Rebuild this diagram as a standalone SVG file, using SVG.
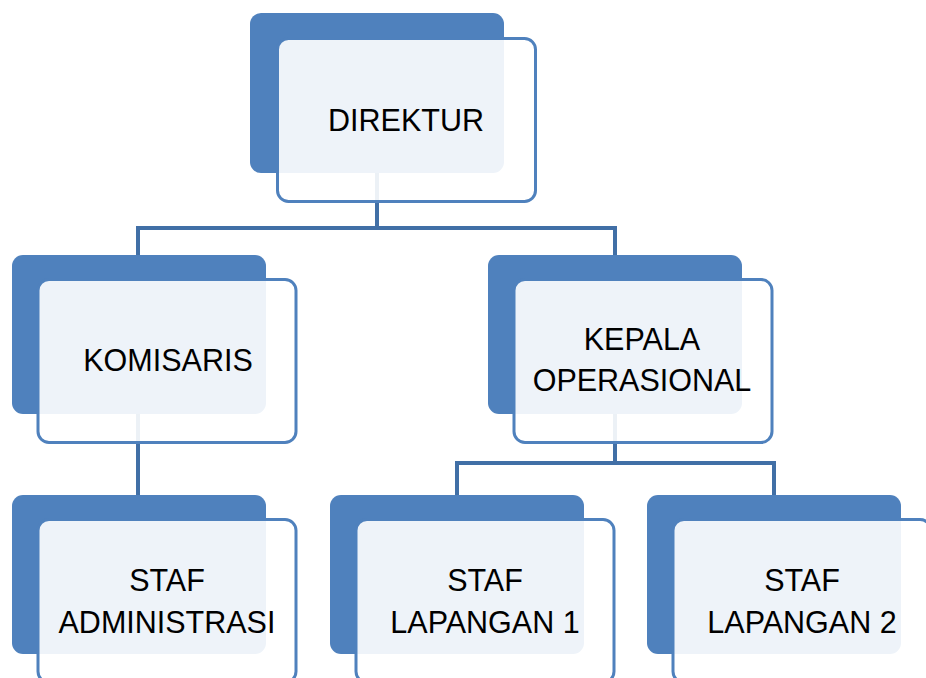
<svg xmlns="http://www.w3.org/2000/svg" width="926" height="678" viewBox="0 0 926 678">
  <style>
    .back { fill: #4F81BD; }
    .front { fill: #FFFFFF; fill-opacity: 0.9; stroke: #4F81BD; stroke-width: 3; }
    .conn { fill: none; stroke: #416FA6; stroke-width: 4; }
    .lbl { font-family: "Liberation Sans", Arial, sans-serif; font-size: 30.5px; fill: #000000; text-anchor: middle; }
  </style>
  <rect width="926" height="678" fill="#FFFFFF"/>
  <g id="connectors">
    <path class="conn" d="M377,173 V228 M138,255 V228 H615 V255"/>
    <path class="conn" d="M138,414 V495"/>
    <path class="conn" d="M615,414 V463 M457,495 V463 H774 V495"/>
  </g>
  <g id="node-direktur">
    <rect class="back" x="250" y="13" width="254" height="160" rx="11"/>
    <rect class="front" x="277.5" y="38.5" width="258" height="163" rx="11"/>
    <text class="lbl" x="406" y="131">DIREKTUR</text>
  </g>
  <g id="node-komisaris">
    <rect class="back" x="12" y="255" width="254" height="159" rx="11"/>
    <rect class="front" x="38" y="279.5" width="258" height="163" rx="11"/>
    <text class="lbl" x="168" y="371">KOMISARIS</text>
  </g>
  <g id="node-kepala-operasional">
    <rect class="back" x="488" y="255" width="254" height="159" rx="11"/>
    <rect class="front" x="514" y="279.5" width="258" height="163" rx="11"/>
    <text class="lbl" x="642" y="350">KEPALA</text>
    <text class="lbl" x="642" y="391">OPERASIONAL</text>
  </g>
  <g id="node-staf-administrasi">
    <rect class="back" x="12" y="495" width="254" height="159" rx="11"/>
    <rect class="front" x="38" y="519.5" width="258" height="163" rx="11"/>
    <text class="lbl" x="167" y="591">STAF</text>
    <text class="lbl" x="167" y="633">ADMINISTRASI</text>
  </g>
  <g id="node-staf-lapangan-1">
    <rect class="back" x="330" y="495" width="254" height="159" rx="11"/>
    <rect class="front" x="356" y="519.5" width="258" height="163" rx="11"/>
    <text class="lbl" x="485" y="591">STAF</text>
    <text class="lbl" x="485" y="633">LAPANGAN 1</text>
  </g>
  <g id="node-staf-lapangan-2">
    <rect class="back" x="647" y="495" width="254" height="159" rx="11"/>
    <rect class="front" x="673" y="519.5" width="258" height="163" rx="11"/>
    <text class="lbl" x="802" y="591">STAF</text>
    <text class="lbl" x="802" y="633">LAPANGAN 2</text>
  </g>
</svg>
